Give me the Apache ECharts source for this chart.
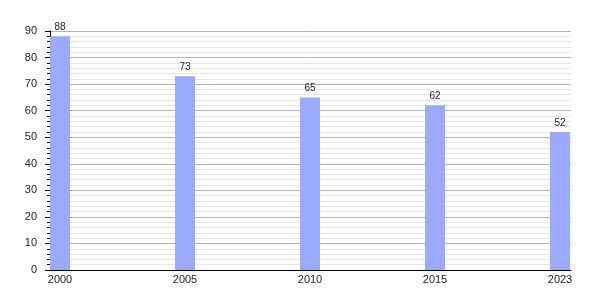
<!DOCTYPE html>
<html>
<head>
<meta charset="utf-8">
<script src="https://cdn.jsdelivr.net/npm/echarts@6/dist/echarts.min.js"></script>
<style>html,body{margin:0;padding:0;background:#fff}#c{width:600px;height:300px}</style>
</head>
<body>
<div id="c"></div>
<script>
var categories = ['2000', '2005', '2010', '2015', '2023'];
var values = [88, 73, 65, 62, 52];
var yTicks = [0, 10, 20, 30, 40, 50, 60, 70, 80, 90];

var chart = echarts.init(document.getElementById('c'), null, {renderer: 'canvas'});
var FONT = 'Liberation Sans, Arial, sans-serif';
chart.setOption({
  animation: false,
  backgroundColor: '#fff',
  grid: {left: 50, right: 29, top: 31, bottom: 30, containLabel: false},
  xAxis: {
    type: 'value',
    min: -0.08,
    max: 4.088,
    axisLine: {show: true, onZero: false, lineStyle: {color: '#000', width: 1}},
    axisTick: {show: false},
    minorTick: {show: false},
    splitLine: {show: false},
    axisLabel: {
      customValues: categories.map(function (c, i) { return i; }),
      formatter: function (v) { return categories[Math.round(v)]; },
      color: '#222', fontSize: 11, fontFamily: FONT, margin: 4
    }
  },
  yAxis: {
    type: 'value',
    min: yTicks[0],
    max: yTicks[yTicks.length - 1],
    interval: 10,
    axisLine: {show: true, onZero: false, lineStyle: {color: '#000', width: 1}},
    axisTick: {show: true, inside: false, length: 5, lineStyle: {color: '#000'}},
    minorTick: {show: true, splitNumber: 5, length: 3, lineStyle: {color: '#000'}},
    splitLine: {show: true, lineStyle: {color: '#b4b4b4', width: 1}},
    minorSplitLine: {show: true, lineStyle: {color: '#e6e6e6', width: 1}},
    axisLabel: {color: '#222', fontSize: 11, fontFamily: FONT, margin: 13}
  },
  series: [{
    type: 'bar',
    barWidth: 20,
    clip: false,
    data: values.map(function (v, i) { return [i, v]; }),
    itemStyle: {color: '#99aaff'},
    label: {show: true, position: 'top', distance: 4, color: '#222', fontSize: 10, fontFamily: FONT,
      formatter: function (p) { return p.value[1]; }}
  }]
});
</script>
</body>
</html>
